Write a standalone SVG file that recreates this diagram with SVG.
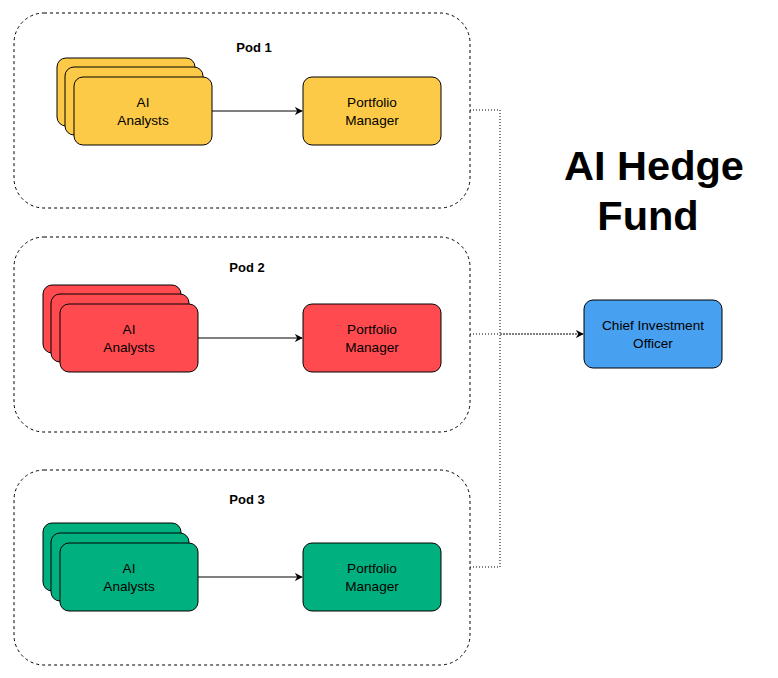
<svg xmlns="http://www.w3.org/2000/svg" width="778" height="678" viewBox="0 0 778 678">
<style>
.pod{fill:none;stroke:#000;stroke-width:1;stroke-dasharray:3 3}
.card{stroke:#000;stroke-width:1}
.y{fill:#FCCA46}
.r{fill:#FF4B4F}
.g{fill:#00B07F}
.b{fill:#48A1F0}
text{font-family:"Liberation Sans",Arial,sans-serif;fill:#000}
.lbl{font-size:13.6px;text-anchor:middle}
.pt{font-size:13px;font-weight:bold;text-anchor:middle}
.title{font-size:41.5px;font-weight:bold;text-anchor:middle}
.flow{fill:none;stroke:#000;stroke-width:1}
.dot{fill:none;stroke:#000;stroke-width:1;stroke-dasharray:1 2}
</style>
<defs>
<marker id="ah" viewBox="0 0 10 10" refX="9" refY="5" markerWidth="8" markerHeight="8" markerUnits="userSpaceOnUse" orient="auto">
<path d="M0,0 L10,5 L0,10 L3,5 Z" fill="#000"/>
</marker>
</defs>
<rect width="778" height="678" fill="#fff"/>

<g id="pod1">
<rect class="pod" x="14" y="13" width="456" height="195" rx="30"/>
<text class="pt" x="254" y="52">Pod 1</text>
</g>
<g id="pod1-analysts">
<rect class="card y" x="57" y="58" width="138" height="68" rx="9"/>
<rect class="card y" x="65" y="67" width="138" height="68" rx="9"/>
<rect class="card y" x="74" y="77" width="138" height="68" rx="9"/>
<text class="lbl" x="143" y="107">AI</text>
<text class="lbl" x="143" y="125">Analysts</text>
</g>
<g id="pod1-pm">
<rect class="card y" x="303" y="77" width="138" height="68" rx="9"/>
<text class="lbl" x="372" y="107">Portfolio</text>
<text class="lbl" x="372" y="125">Manager</text>
</g>

<g id="pod2">
<rect class="pod" x="14" y="237" width="456" height="195" rx="30"/>
<text class="pt" x="247" y="272">Pod 2</text>
</g>
<g id="pod2-analysts">
<rect class="card r" x="43" y="285" width="138" height="68" rx="9"/>
<rect class="card r" x="51" y="294" width="138" height="68" rx="9"/>
<rect class="card r" x="60" y="304" width="138" height="68" rx="9"/>
<text class="lbl" x="129" y="334">AI</text>
<text class="lbl" x="129" y="352">Analysts</text>
</g>
<g id="pod2-pm">
<rect class="card r" x="303" y="304" width="138" height="68" rx="9"/>
<text class="lbl" x="372" y="334">Portfolio</text>
<text class="lbl" x="372" y="352">Manager</text>
</g>

<g id="pod3">
<rect class="pod" x="14" y="470" width="456" height="195" rx="30"/>
<text class="pt" x="247" y="504">Pod 3</text>
</g>
<g id="pod3-analysts">
<rect class="card g" x="43" y="523" width="138" height="68" rx="9"/>
<rect class="card g" x="51" y="533" width="138" height="68" rx="9"/>
<rect class="card g" x="60" y="543" width="138" height="68" rx="9"/>
<text class="lbl" x="129" y="573">AI</text>
<text class="lbl" x="129" y="591">Analysts</text>
</g>
<g id="pod3-pm">
<rect class="card g" x="303" y="543" width="138" height="68" rx="9"/>
<text class="lbl" x="372" y="573">Portfolio</text>
<text class="lbl" x="372" y="591">Manager</text>
</g>

<g id="cio">
<rect class="card b" x="584" y="300" width="138" height="68" rx="9"/>
<text class="lbl" x="653" y="330">Chief Investment</text>
<text class="lbl" x="653" y="348">Officer</text>
</g>

<g id="title">
<text class="title" x="654" y="180">AI Hedge</text>
<text class="title" x="648" y="230">Fund</text>
</g>

<g id="connectors">
<line class="flow" x1="212" y1="111" x2="302" y2="111" marker-end="url(#ah)"/>
<line class="flow" x1="198" y1="338" x2="302" y2="338" marker-end="url(#ah)"/>
<line class="flow" x1="198" y1="577" x2="302" y2="577" marker-end="url(#ah)"/>
<polyline class="dot" points="470,110 500,110 500,334 583,334" marker-end="url(#ah)"/>
<polyline class="dot" points="470,567 500,567 500,334"/>
<line class="dot" x1="470" y1="334" x2="583" y2="334"/>
</g>
</svg>
